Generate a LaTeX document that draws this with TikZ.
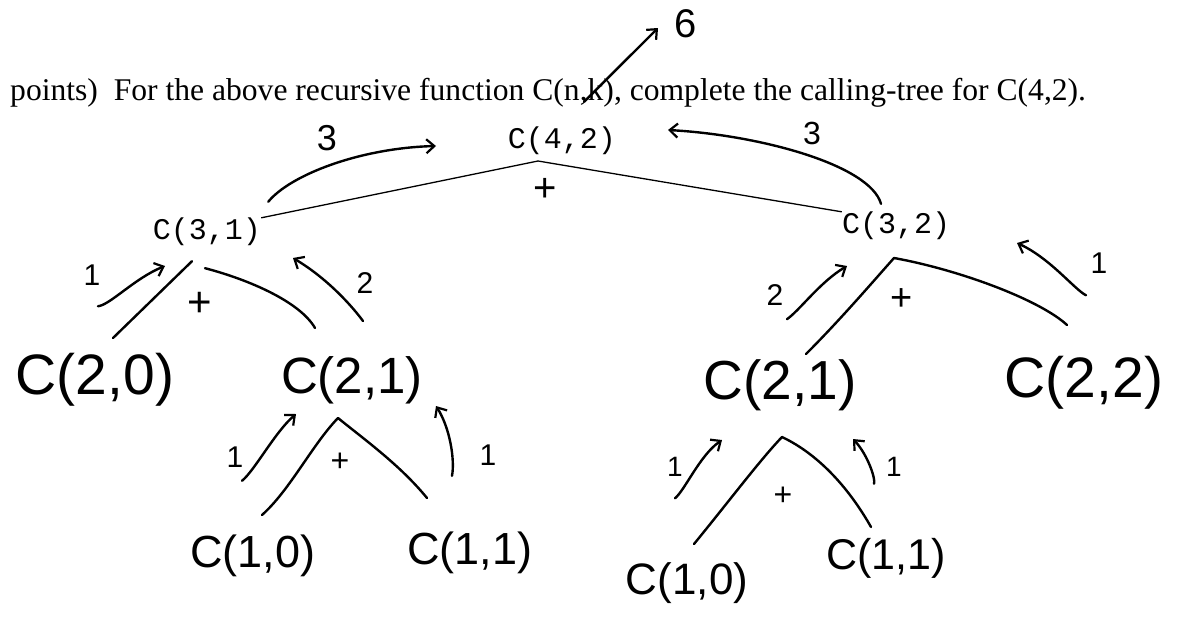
\documentclass[tikz,border=0pt]{standalone}
\usepackage{fontspec}
\setmainfont{Liberation Serif}
\newfontfamily\monof{Liberation Mono}
\newfontfamily\handf{Liberation Sans}
\usetikzlibrary{arrows.meta}
\begin{document}
\begin{tikzpicture}[x=1pt,y=-1pt,
  mono/.style={font=\monof\fontsize{30}{33}\selectfont, inner sep=0pt},
  hw/.style={font=\handf\fontsize{#1}{#1}\selectfont, inner sep=0pt},
  hand/.style={line width=2.4pt, line cap=round, line join=round},
  treeline/.style={line width=1.3pt, line join=miter},
  ret/.style={hand, -{Straight Barb[length=8pt,width=14pt,line width=2.2pt]}},
]
\useasboundingbox (0,0) rectangle (1177,624);
% title
\node[anchor=base west, font=\fontsize{31.6}{36}\selectfont, inner sep=0pt] (title) at (10,100)
  {points)~ For the above recursive function C(n,k), complete the calling-tree for C(4,2).};
% typed nodes
\node[mono] (c42) at (562,141) {C(4,2)};
\node[mono] (c31) at (207,232) {C(3,1)};
\node[mono] (c32) at (896,226) {C(3,2)};
% handwritten nodes
\node[hw=57] (c20) at (95,380) {C(2,0)};
\node[hw=51] (c21a) at (352,380) {C(2,1)};
\node[hw=45] (c10a) at (253,556) {C(1,0)};
\node[hw=45] (c11a) at (470,553) {C(1,1)};
\node[hw=55] (c21b) at (780,385) {C(2,1)};
\node[hw=57] (c22) at (1084,383) {C(2,2)};
\node[hw=44] (c10b) at (687,583) {C(1,0)};
\node[hw=43] (c11b) at (886,558) {C(1,1)};
% plus signs
\node[hw=40] (pl1) at (545,190) {+};
\node[hw=42] (pl2) at (200,304) {+};
\node[hw=32] (pl3) at (340,462) {+};
\node[hw=38] (pl4) at (902,300) {+};
\node[hw=32] (pl5) at (783,496) {+};
% value labels
\node[hw=40] (v6) at (686,24) {6};
\node[hw=36] (l3a) at (327,138) {3};
\node[hw=32] (l3b) at (812,133) {3};
\node[hw=30] (l1a) at (92,275) {1};
\node[hw=30] (l2a) at (365,283) {2};
\node[hw=30] (l1b) at (235,457) {1};
\node[hw=30] (l1c) at (488,455) {1};
\node[hw=30] (l2b) at (775,295) {2};
\node[hw=30] (l1d) at (1099,263) {1};
\node[hw=28] (l1e) at (675,467) {1};
\node[hw=28] (l1f) at (894,467) {1};
% coordinates
\coordinate (p42) at (538,161);
\coordinate (p21a) at (338,418);
\coordinate (p32) at (894,258);
\coordinate (p21b) at (782,437);
\coordinate (e20) at (113,338);
\coordinate (e21a) at (315,328);
\coordinate (e10a) at (262,515);
\coordinate (e11a) at (427,498);
\coordinate (e21b) at (806,354);
\coordinate (e22) at (1067,325);
\coordinate (e10b) at (694,544);
\coordinate (e11b) at (871,527);
% top tree lines
\draw[treeline] (c31.north east) -- (p42) -- (c32.north west);
% C(3,1) children
\draw[hand] (c31.south) ++(-15,15) -- (e20);
\draw[hand] (c31.south) ++(-2,22) .. controls (250,280) and (300,302) .. (e21a);
% C(2,1) left children
\draw[hand] (e10a) .. controls (290,490) and (312,445) .. (p21a) .. controls (365,440) and (400,465) .. (e11a);
% C(3,2) children
\draw[hand] (e21b) .. controls (840,320) and (870,285) .. (p32) .. controls (960,270) and (1040,300) .. (e22);
% C(2,1) right children
\draw[hand] (e10b) .. controls (730,500) and (760,460) .. (p21b) .. controls (820,455) and (850,490) .. (e11b);
% return arrows
\draw[ret] (c20.north) ++(3,-47) .. controls (110,305) and (135,278) .. (165,266);
\draw[ret] (c21a.north) ++(11,-35) .. controls (355,310) and (330,280) .. (293,258);
\draw[ret] (c10a.north) ++(-11,-54) .. controls (255,470) and (275,432) .. (296,414);
\draw[ret] (c11a.north) ++(-18,-56) .. controls (455,460) and (450,428) .. (436,406);
\draw[ret] (c21b.north) ++(7,-40) .. controls (800,310) and (820,282) .. (847,266);
\draw[ret] (c22.north) ++(2,-61) .. controls (1075,290) and (1050,258) .. (1017,243);
\draw[ret] (c10b.north) ++(-12,-64) .. controls (685,490) and (700,455) .. (722,440);
\draw[ret] (c11b.north) ++(-12,-54) .. controls (876,480) and (868,455) .. (853,439);
% top return arrows
\draw[ret] (c31.north east) ++(7,-16) .. controls (290,175) and (360,148) .. (436,146);
\draw[ret] (c32.north) ++(-15,-8) .. controls (870,165) and (760,135) .. (668,130);
% final result arrow
\draw[ret] (c42.north) ++(22,-25) -- (658,28);
\end{tikzpicture}
\end{document}
